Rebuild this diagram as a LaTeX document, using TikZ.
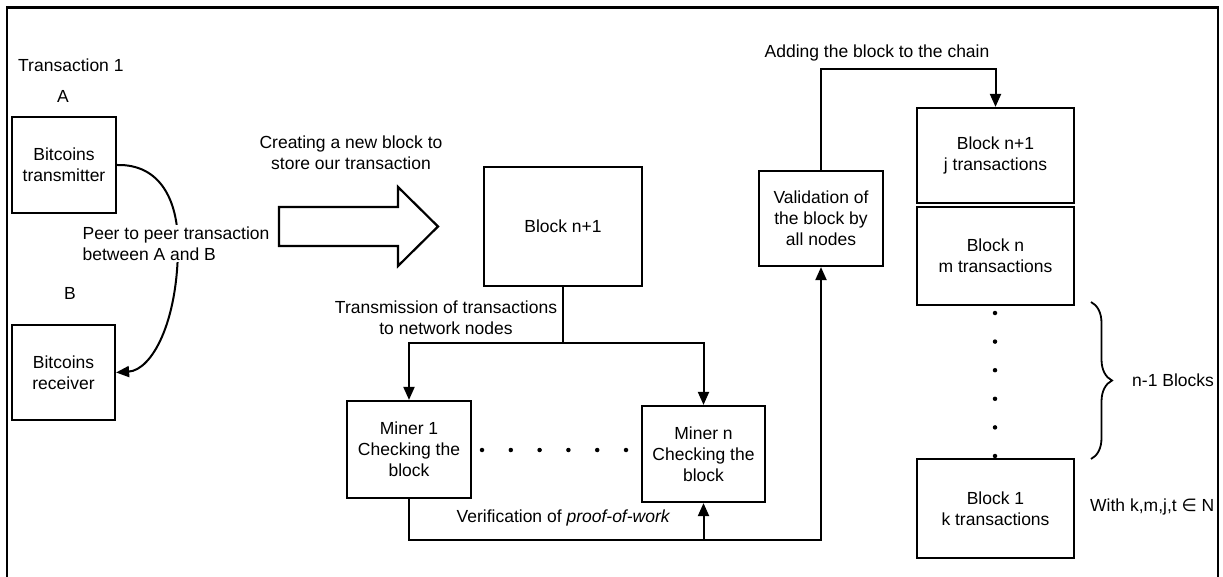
\documentclass[tikz,border=0pt]{standalone}
\usepackage{fontspec}
\setmainfont{Liberation Sans}
\newfontfamily\symfnt{DejaVu Sans}
\usetikzlibrary{arrows.meta,decorations.pathreplacing}
\newcommand\mainfnt{\fontsize{17.5}{21}\selectfont}
\tikzset{
  box/.style={draw, line width=2.2pt, inner sep=0pt, align=center, font=\mainfnt},
  lbl/.style={inner sep=0pt, align=center, font=\mainfnt},
  conn/.style={line width=2pt},
  arr/.style={line width=2pt, -{Triangle[length=13pt,width=11pt]}},
  dotm/.style={fill=black, circle, inner sep=0pt, minimum size=4.5pt}
}
\begin{document}
\begin{tikzpicture}[x=1pt,y=-1pt]
\useasboundingbox (0,0) rectangle (1223,577);
% frame (open at bottom)
\draw[line width=2.6pt] (7,577) -- (7,7.5) -- (1218,7.5) -- (1218,577);

% left part
\node[lbl, anchor=west] (t1) at (18,65.5) {Transaction 1};
\node[lbl] (la) at (63,96) {A};
\node[lbl] (lb) at (70,293) {B};
\node[box, minimum width=104pt, minimum height=96pt] (tx) at (64,165) {Bitcoins\\transmitter};
\node[box, minimum width=103pt, minimum height=95pt] (rx) at (63.5,372.5) {Bitcoins\\receiver};
\draw[arr] (tx.east) .. controls (160,164) and (178,200) .. (178,245)
  .. controls (178,322) and (152,370) .. (rx.east);
\node[lbl, align=left, fill=white, inner sep=2pt] (p2p) at (176,243.5) {Peer to peer transaction\\between A and B};

% big arrow
\node[lbl] (create) at (351,152.5) {Creating a new block to\\store our transaction};
\draw[line width=2.2pt, line join=miter] (279,207) -- (398,207) -- (398,187) -- (438,226.5) -- (398,266) -- (398,246) -- (279,246) -- cycle;

% middle
\node[box, minimum width=158pt, minimum height=119pt] (blk) at (563,226.5) {Block n+1};
\node[lbl] (trans) at (446,318) {Transmission of transactions\\to network nodes};
\node[box, minimum width=124pt, minimum height=97pt] (m1) at (409,449.5) {Miner 1\\Checking the\\block};
\node[box, minimum width=123pt, minimum height=96pt] (mn) at (703.5,454) {Miner n\\Checking the\\block};
\foreach \xx [count=\i] in {482,510.8,539.6,568.4,597.2,626}
  \node[dotm] (hd\i) at (\xx,450) {};
\coordinate (split) at (563,343);
\draw[conn] (blk.south) -- (split);
\draw[arr] (split) -| (m1.north);
\draw[arr] (split) -| (mn.north);
\coordinate (bj) at (703.5,540);
\node[box, minimum width=124pt, minimum height=95pt] (valid) at (821,218.5) {Validation of\\the block by\\all nodes};
\draw[arr] (m1.south) |- (bj) -| (valid.south);
\draw[arr] (bj) -- (mn.south);
\node[lbl] (verif) at (563.5,518) {Verification of \textit{proof-of-work}};

% chain
\node[lbl] (add) at (877,53) {Adding the block to the chain};
\node[box, minimum width=157pt, minimum height=95pt] (bj1) at (995.5,155.5) {Block n+1\\j transactions};
\node[box, minimum width=157pt, minimum height=98pt] (bn) at (995.5,256) {Block n\\m transactions};
\node[box, minimum width=157pt, minimum height=99pt] (b1) at (995.5,508.5) {Block 1\\k transactions};
\coordinate (topc) at (821,69);
\draw[arr] (valid.north) -- (topc) -| (bj1.north);
\foreach \yy [count=\i] in {313,341.6,370.2,398.8,427.4,456}
  \node[dotm] (vd\i) at (995,\yy) {};
\draw[line width=1.8pt, decorate, decoration={brace, amplitude=21pt}] (1091,302) -- (1091,459);
\node[lbl, anchor=west] (nb) at (1132,380) {n-1 Blocks};
\node[lbl, anchor=west] (with) at (1090,507) {With k,m,j,t {\symfnt ∈} N};
\end{tikzpicture}
\end{document}
